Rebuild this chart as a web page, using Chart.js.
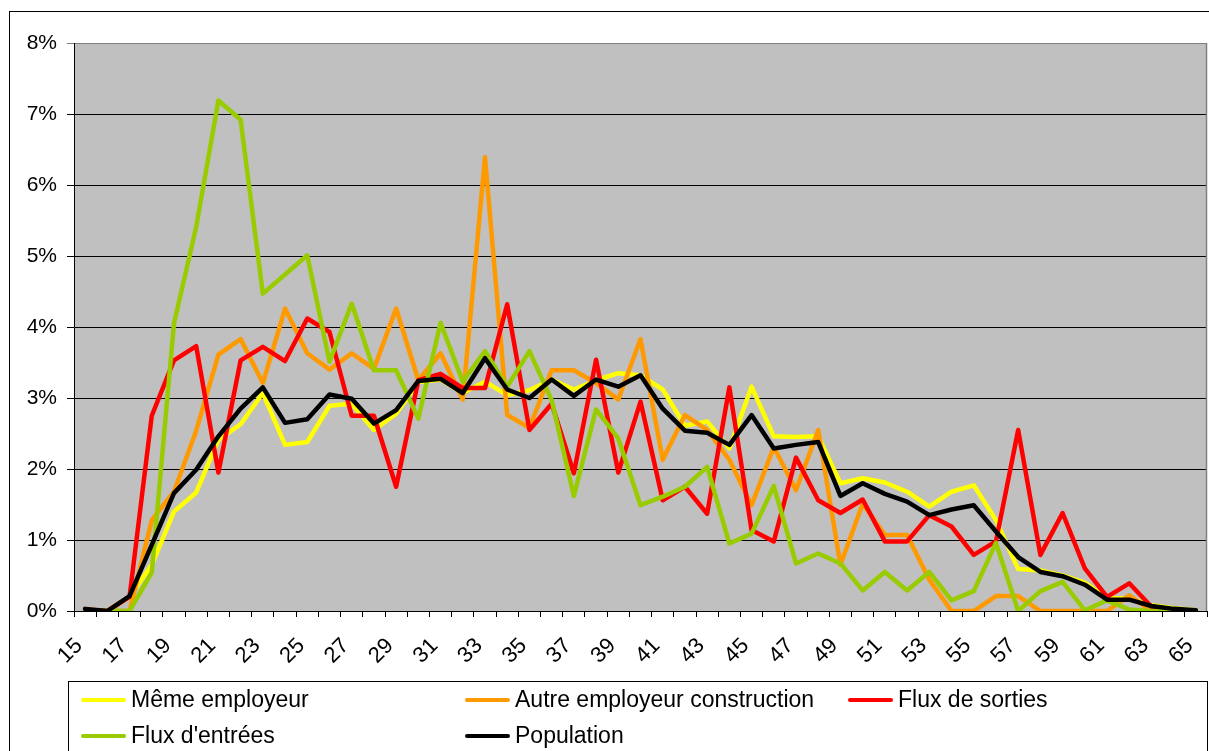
<!DOCTYPE html>
<html>
  <head>
    <script src="https://cdn.jsdelivr.net/npm/chart.js@4.4.1/dist/chart.umd.min.js"></script>
    <style>
      body {
        margin: 0;
        padding: 0;
        background: #ffffff;
      }
      .chart-container {
        width: 1209px;
        height: 751px;
        position: relative;
      }
    </style>
  </head>
  <body>
    <div class="chart-container">
      <canvas id="ageChart"></canvas>
    </div>

    <script>
      // ages 15 to 65, shares in %
      const ages = [];
      for (let a = 15; a <= 65; a++) ages.push(String(a));

      const memeEmployeur = [
        0.02, 0.00, 0.20, 0.65, 1.40, 1.67, 2.41, 2.63, 3.07, 2.34,
        2.38, 2.89, 2.92, 2.55, 2.78, 3.22, 3.26, 3.07, 3.23, 3.04,
        3.11, 3.26, 3.12, 3.25, 3.35, 3.32, 3.12, 2.61, 2.67, 2.29,
        3.16, 2.46, 2.45, 2.46, 1.80, 1.87, 1.81, 1.68, 1.47, 1.68,
        1.77, 1.28, 0.59, 0.57, 0.50, 0.40, 0.18, 0.18, 0.08, 0.04,
        0.01
      ];
      const autreEmployeur = [
        0.00, 0.00, 0.00, 1.28, 1.68, 2.54, 3.61, 3.83, 3.21, 4.26,
        3.63, 3.40, 3.63, 3.41, 4.26, 3.25, 3.63, 2.98, 6.39, 2.76,
        2.58, 3.39, 3.39, 3.21, 2.98, 3.83, 2.13, 2.76, 2.55, 2.13,
        1.49, 2.31, 1.70, 2.55, 0.65, 1.51, 1.07, 1.07, 0.44, 0.00,
        0.00, 0.21, 0.21, 0.00, 0.00, 0.00, 0.00, 0.22, 0.00, 0.00,
        0.00
      ];
      const fluxSorties = [
        0.02, 0.00, 0.20, 2.75, 3.53, 3.73, 1.95, 3.53, 3.72, 3.52,
        4.12, 3.93, 2.75, 2.75, 1.75, 3.25, 3.34, 3.14, 3.14, 4.32,
        2.55, 2.92, 1.94, 3.54, 1.95, 2.95, 1.56, 1.75, 1.37, 3.15,
        1.14, 0.98, 2.16, 1.56, 1.38, 1.57, 0.98, 0.98, 1.35, 1.19,
        0.79, 0.98, 2.55, 0.79, 1.38, 0.60, 0.20, 0.39, 0.06, 0.02,
        0.00
      ];
      const fluxEntrees = [
        0.00, 0.00, 0.00, 0.54, 4.05, 5.41, 7.19, 6.92, 4.47, 4.74,
        5.01, 3.51, 4.33, 3.39, 3.39, 2.71, 4.06, 3.23, 3.66, 3.16,
        3.66, 2.97, 1.62, 2.84, 2.43, 1.49, 1.61, 1.75, 2.03, 0.95,
        1.09, 1.76, 0.67, 0.81, 0.67, 0.29, 0.55, 0.29, 0.55, 0.15,
        0.28, 0.96, 0.00, 0.28, 0.41, 0.01, 0.15, 0.02, 0.00, 0.00,
        0.00
      ];
      const population = [
        0.03, 0.00, 0.21, 0.93, 1.66, 1.99, 2.46, 2.85, 3.15, 2.65,
        2.70, 3.05, 2.99, 2.64, 2.83, 3.24, 3.27, 3.07, 3.56, 3.12,
        3.00, 3.26, 3.03, 3.26, 3.16, 3.32, 2.85, 2.54, 2.51, 2.34,
        2.76, 2.29, 2.34, 2.38, 1.62, 1.80, 1.65, 1.54, 1.35, 1.43,
        1.49, 1.12, 0.76, 0.55, 0.49, 0.37, 0.16, 0.16, 0.07, 0.03,
        0.01
      ];

      const seriesNames = ['Même employeur', 'Autre employeur construction', 'Flux de sorties', "Flux d'entrées", 'Population'];
      const seriesColors = ['#FFFF00', '#FF9900', '#FF0000', '#99CC00', '#000000'];
      const seriesData = [memeEmployeur, autreEmployeur, fluxSorties, fluxEntrees, population];

      const FONT = "'Liberation Sans', Arial, sans-serif";

      // grey plot background, chart frame and boxed legend (Excel look)
      const excelFrame = {
        id: 'excelFrame',
        beforeDraw(chart) {
          const ctx = chart.ctx;
          const a = chart.chartArea;
          ctx.save();
          ctx.fillStyle = '#C0C0C0';
          ctx.fillRect(a.left, a.top, a.right - a.left, a.bottom - a.top);
          // outer frame
          ctx.strokeStyle = '#000000';
          ctx.lineWidth = 1;
          ctx.strokeRect(9.5, 11.5, 1300, 800);
          ctx.restore();
        },
        afterDraw(chart) {
          const ctx = chart.ctx;
          const a = chart.chartArea;
          ctx.save();
          ctx.strokeStyle = '#808080';
          ctx.lineWidth = 1.5;
          ctx.beginPath();
          ctx.moveTo(Math.round(a.right) - 0.5, a.top);
          ctx.lineTo(Math.round(a.right) - 0.5, a.bottom);
          ctx.stroke();

          // legend box
          ctx.strokeStyle = '#000000';
          ctx.lineWidth = 1;
          ctx.strokeRect(68.5, 681.5, 1139, 100);

          const cols = [83, 467, 850];
          const rows = [700, 736];
          ctx.font = '23px ' + FONT;
          ctx.textBaseline = 'middle';
          ctx.textAlign = 'left';
          chart.data.datasets.forEach(function(ds, i) {
            const x = cols[i % 3];
            const y = rows[Math.floor(i / 3)];
            ctx.strokeStyle = ds.borderColor;
            ctx.lineWidth = 4;
            ctx.lineCap = 'round';
            ctx.beginPath();
            ctx.moveTo(x, y);
            ctx.lineTo(x + 41, y);
            ctx.stroke();
            ctx.fillStyle = '#000000';
            ctx.fillText(ds.label, x + 48, y + 1);
          });
          ctx.restore();
        }
      };

      const datasets = seriesNames.map(function(name, i) {
        return {
          label: name,
          data: seriesData[i],
          borderColor: seriesColors[i],
          backgroundColor: seriesColors[i],
          borderWidth: 4.5,
          pointRadius: 0,
          pointHoverRadius: 0,
          tension: 0,
          fill: false,
          borderJoinStyle: 'round',
          borderCapStyle: 'round',
          order: seriesNames.length - i
        };
      });

      new Chart(document.getElementById('ageChart'), {
        type: 'line',
        data: {
          labels: ages,
          datasets: datasets
        },
        options: {
          responsive: true,
          maintainAspectRatio: false,
          animation: false,
          layout: {
            padding: { left: 0, right: 2, top: 43, bottom: 0 }
          },
          plugins: {
            legend: { display: false },
            tooltip: { enabled: false }
          },
          scales: {
            x: {
              offset: true,
              grid: {
                offset: true,
                drawOnChartArea: false,
                drawTicks: true,
                tickLength: 6,
                color: '#000000'
              },
              border: { color: '#000000', width: 1 },
              ticks: {
                autoSkip: false,
                minRotation: 45,
                maxRotation: 45,
                padding: 16,
                labelOffset: -6,
                color: '#000000',
                font: { family: FONT, size: 22 },
                callback: function(value, index) {
                  return index % 2 === 0 ? this.getLabelForValue(value) : '';
                }
              },
              afterFit: function(scale) {
                scale.height = 140;
                scale.paddingLeft = 0;
                scale.paddingRight = 0;
              }
            },
            y: {
              min: 0,
              max: 8,
              grid: {
                color: function(ctx) {
                  return ctx.tick && ctx.tick.value === 8 ? '#808080' : '#000000';
                },
                lineWidth: 1,
                tickLength: 7
              },
              border: { color: '#000000', width: 1 },
              ticks: {
                stepSize: 1,
                padding: 10,
                color: '#000000',
                font: { family: FONT, size: 21 },
                callback: function(value) {
                  return value + '%';
                }
              },
              afterFit: function(scale) {
                scale.width = 74;
                scale.paddingTop = 0;
                scale.paddingBottom = 0;
              }
            }
          }
        },
        plugins: [excelFrame]
      });
    </script>
  </body>
</html>
